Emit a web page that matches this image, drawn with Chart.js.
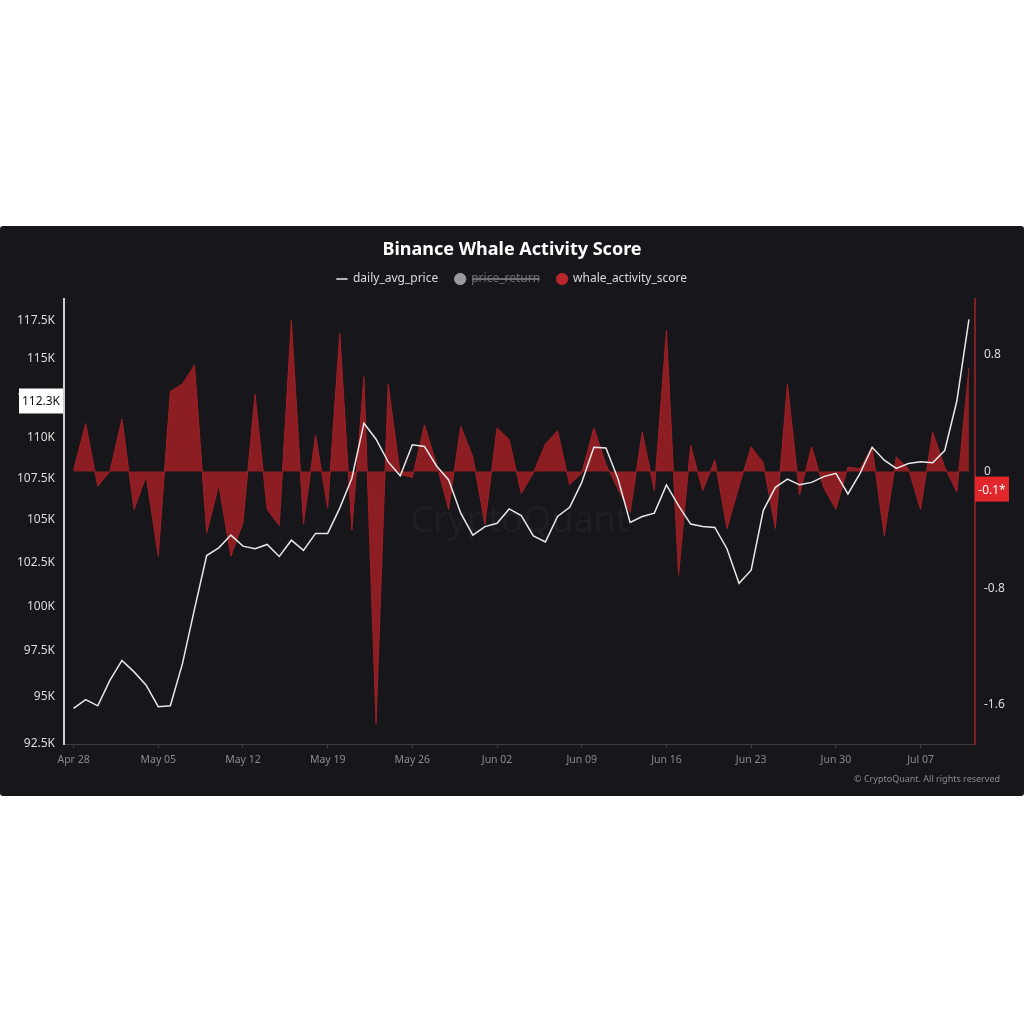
<!DOCTYPE html>
<html>
<head>
<meta charset="utf-8">
<script src="https://cdn.jsdelivr.net/npm/chart.js@4.4.0/dist/chart.umd.min.js"></script>
<style>
html, body { margin: 0; padding: 0; background: #ffffff; }
#panel { position: absolute; left: 0; top: 226px; width: 1024px; height: 570px; background: #17171b; border-radius: 3px; }
#panel canvas { display: block; }
</style>
</head>
<body>
<div id="panel"><canvas id="chart" width="1024" height="570"></canvas></div>
<script>
// Weekly tick labels (one per 7 days, first day = Apr 28)
const weekLabels = ['Apr 28', 'May 05', 'May 12', 'May 19', 'May 26', 'Jun 02',
    'Jun 09', 'Jun 16', 'Jun 23', 'Jun 30', 'Jul 07'];

// Daily values, Apr 28 .. Jul 11
const dailyAvgPrice = [
    94380, 94850, 94520, 95890, 96980, 96350, 95630, 94470, 94520, 96800,
    99850, 102900, 103350, 104100, 103450, 103300, 103550, 102850, 103800, 103200,
    104200, 104200, 105700, 107500, 110900, 109900, 108500, 107650, 109550, 109450,
    108250, 107400, 105400, 104100, 104600, 104800, 105650, 105250, 104050, 103700,
    105200, 105750, 107250, 109400, 109350, 107450, 104850, 105200, 105400, 107100,
    105850, 104750, 104600, 104550, 103300, 101300, 102050, 105550, 106950, 107450,
    107100, 107250, 107600, 107800, 106550, 107800, 109400, 108600, 108100, 108400,
    108500, 108450, 109200, 112300, 117600
];
const whaleActivityScore = [
    0.01, 0.33, -0.10, 0.00, 0.36, -0.26, -0.03, -0.58, 0.55, 0.60,
    0.73, -0.42, -0.09, -0.58, -0.35, 0.53, -0.26, -0.37, 1.04, -0.36,
    0.25, -0.25, 0.95, -0.40, 0.65, -1.73, 0.60, -0.02, -0.04, 0.32,
    0.05, -0.26, 0.31, 0.10, -0.36, 0.30, 0.22, -0.15, -0.01, 0.19,
    0.28, -0.09, -0.01, 0.30, 0.05, -0.12, -0.28, 0.27, -0.13, 0.97,
    -0.71, 0.18, -0.13, 0.08, -0.39, -0.10, 0.17, 0.06, -0.39, 0.60,
    -0.16, 0.17, -0.11, -0.26, 0.03, 0.02, 0.17, -0.44, 0.10, 0.02,
    -0.26, 0.27, 0.03, -0.14, 0.71
];
// hidden series (struck through in the legend)
const priceReturn = [];

const priceTicks = [92500, 95000, 97500, 100000, 102500, 105000, 107500, 110000, 112500, 115000, 117500];
const scoreTicks = [-1.6, -0.8, 0, 0.8];

// axis value badges
const priceMarker = { value: 112300, label: '112.3K' };
const scoreMarker = { value: -0.12, label: '-0.1*' };

Chart.defaults.font.family = "'Noto Sans', sans-serif";
Chart.defaults.color = '#dcdcdc';

const toPoints = (arr) => arr.map((v, i) => ({ x: i, y: v }));

const overlay = {
    id: 'overlay',
    beforeDatasetsDraw(chart) {
        const { ctx, chartArea } = chart;
        ctx.save();
        ctx.font = '36px "Noto Sans"';
        ctx.fillStyle = 'rgba(255,255,255,0.035)';
        ctx.textAlign = 'center';
        ctx.textBaseline = 'middle';
        ctx.fillText('CryptoQuant', (chartArea.left + chartArea.right) / 2, (chartArea.top + chartArea.bottom) / 2);
        ctx.restore();
    },
    afterDraw(chart) {
        const { ctx } = chart;
        const yL = chart.scales.y;
        const yR = chart.scales.y1;
        ctx.save();
        ctx.font = '12px "Noto Sans"';
        ctx.textAlign = 'center';
        ctx.textBaseline = 'middle';

        // left badge
        let py = yL.getPixelForValue(priceMarker.value);
        ctx.fillStyle = '#ffffff';
        ctx.fillRect(yL.right - 45, py - 12.5, 44, 25);
        ctx.fillStyle = '#111111';
        ctx.fillText(priceMarker.label, yL.right - 23, py + 1);

        // right badge
        py = yR.getPixelForValue(scoreMarker.value);
        ctx.fillStyle = '#e1272c';
        ctx.fillRect(yR.left, py - 12.5, 34, 25);
        ctx.fillStyle = '#ffffff';
        ctx.fillText(scoreMarker.label, yR.left + 17, py + 1);

        // copyright
        ctx.font = '9px "Noto Sans"';
        ctx.fillStyle = '#8a8a8a';
        ctx.textAlign = 'right';
        ctx.fillText('\u00A9 CryptoQuant. All rights reserved', 1000, 553);
        ctx.restore();
    }
};

new Chart(document.getElementById('chart'), {
    type: 'line',
    data: {
        datasets: [
            {
                label: 'daily_avg_price',
                data: toPoints(dailyAvgPrice),
                yAxisID: 'y',
                borderColor: '#e8e8e8',
                backgroundColor: '#e8e8e8',
                borderWidth: 1.5,
                pointRadius: 0,
                pointStyle: 'line',
                fill: false,
                tension: 0,
            },
            {
                label: 'price_return',
                data: toPoints(priceReturn),
                yAxisID: 'y1',
                hidden: true,
                borderColor: '#8e8e93',
                backgroundColor: '#8e8e93',
                pointRadius: 0,
                pointStyle: 'circle',
            },
            {
                label: 'whale_activity_score',
                data: toPoints(whaleActivityScore),
                yAxisID: 'y1',
                borderColor: 'rgba(165,32,38,0.9)',
                backgroundColor: 'rgba(160,30,36,0.85)',
                borderWidth: 1,
                pointRadius: 0,
                pointStyle: 'circle',
                fill: 'origin',
                tension: 0,
            },
        ],
    },
    options: {
        responsive: false,
        animation: false,
        events: [],
        layout: { padding: 0 },
        scales: {
            x: {
                type: 'linear',
                min: -0.79,
                max: 74.5,
                afterBuildTicks: (scale) => {
                    scale.ticks = weekLabels.map((_, k) => ({ value: k * 7 }));
                },
                afterFit: (scale) => {
                    scale.height = 52;
                },
                ticks: {
                    autoSkip: false,
                    maxRotation: 0,
                    color: '#8a8a8a',
                    font: { size: 10.5 },
                    padding: 6,
                    callback: (v) => weekLabels[Math.round(v / 7)],
                },
                grid: {
                    drawOnChartArea: false,
                    color: '#3b3b42',
                    tickLength: 4,
                },
                border: { color: '#3b3b42', width: 1 },
            },
            y: {
                type: 'logarithmic',
                position: 'left',
                min: 92500,
                max: 118968,
                afterBuildTicks: (scale) => {
                    scale.ticks = priceTicks.map((v) => ({ value: v }));
                },
                afterFit: (scale) => {
                    scale.width = 64;
                },
                ticks: {
                    color: '#dcdcdc',
                    font: { size: 12 },
                    padding: 9,
                    callback: (v) => v / 1000 + 'K',
                },
                grid: { display: false, drawTicks: false },
                border: { display: true, color: '#cfcfcf', width: 2 },
            },
            y1: {
                type: 'linear',
                position: 'right',
                min: -1.867,
                max: 1.183,
                afterBuildTicks: (scale) => {
                    scale.ticks = scoreTicks.map((v) => ({ value: v }));
                },
                afterFit: (scale) => {
                    scale.width = 49;
                },
                ticks: {
                    color: '#dcdcdc',
                    font: { size: 12 },
                    padding: 9,
                    callback: (v) => String(v),
                },
                grid: { display: false, drawTicks: false },
                border: { display: true, color: '#7d1f23', width: 2 },
            },
        },
        plugins: {
            tooltip: { enabled: false },
            title: {
                display: true,
                text: 'Binance Whale Activity Score',
                color: '#ffffff',
                font: { size: 18, weight: 'bold' },
                padding: { top: 13.2, bottom: -4.8 },
            },
            // spacer between legend and plot
            subtitle: {
                display: true,
                text: '',
                weight: 900,
                font: { size: 1 },
                padding: { top: 0, bottom: 2.8 },
            },
            legend: {
                position: 'top',
                align: 'center',
                labels: {
                    usePointStyle: true,
                    boxWidth: 10,
                    boxHeight: 8,
                    padding: 17,
                    color: '#dcdcdc',
                    font: { size: 12 },
                    generateLabels: (chart) => {
                        const items = Chart.defaults.plugins.legend.labels.generateLabels(chart);
                        return items.map((item) => {
                            if (item.hidden) {
                                item.fontColor = '#6e6e73';
                                item.fillStyle = '#9a9aa0';
                                item.strokeStyle = '#9a9aa0';
                            }
                            if (item.text === 'whale_activity_score') {
                                item.fillStyle = '#b8262c';
                                item.strokeStyle = '#b8262c';
                            }
                            return item;
                        });
                    },
                },
            },
        },
    },
    plugins: [overlay],
});
</script>
</body>
</html>
